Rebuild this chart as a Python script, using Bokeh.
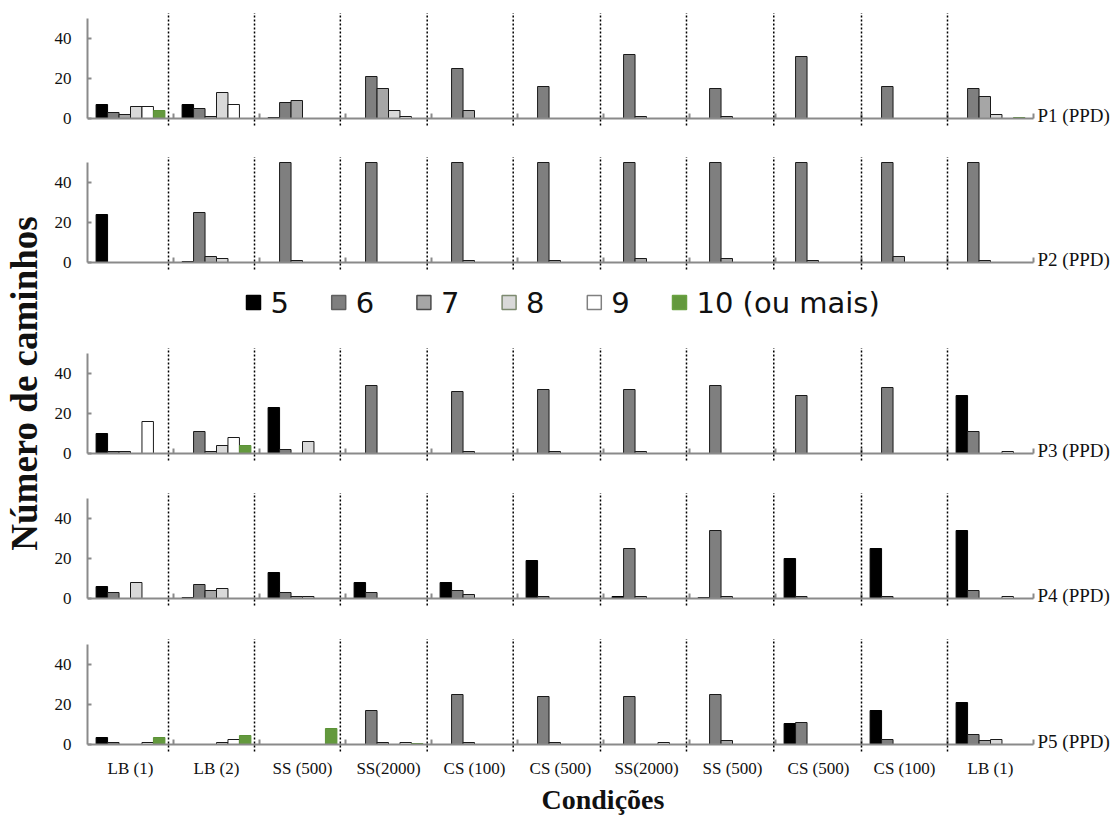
import math
from bokeh.plotting import figure
from bokeh.models import ColumnDataSource, FixedTicker, LinearAxis, Range1d, Title
from bokeh.layouts import column, row
from bokeh.embed import file_html
from bokeh.resources import INLINE
from bokeh.core.properties import value

# ---------------- data ----------------
conditions = ["LB (1)", "LB (2)", "SS (500)", "SS(2000)", "CS (100)", "CS (500)",
              "SS(2000)", "SS (500)", "CS (500)", "CS (100)", "LB (1)"]
series_names = ["5", "6", "7", "8", "9", "10 (ou mais)"]
participants = ["P1 (PPD)", "P2 (PPD)", "P3 (PPD)", "P4 (PPD)", "P5 (PPD)"]
y_ticks = [0, 20, 40]

# P1
p1_5 = [7, 7, 0.5, 0, 0, 0, 0, 0, 0, 0, 0]
p1_6 = [3, 5, 8, 21, 25, 16, 32, 15, 31, 16, 15]
p1_7 = [2, 1, 9, 15, 4, 0, 1, 1, 0, 0, 11]
p1_8 = [6, 13, 0, 4, 0, 0, 0, 0, 0, 0, 2]
p1_9 = [6, 7, 0, 1, 0, 0, 0, 0, 0, 0, 0]
p1_10 = [4, 0, 0, 0, 0, 0, 0, 0, 0, 0, 0.5]
# P2 (bars of 6 reach the top of the axis, 50)
p2_5 = [24, 0.5, 0, 0, 0, 0, 0, 0, 0, 0, 0]
p2_6 = [0, 25, 50, 50, 50, 50, 50, 50, 50, 50, 50]
p2_7 = [0, 3, 1, 0, 1, 1, 2, 2, 1, 3, 1]
p2_8 = [0, 2, 0, 0, 0, 0, 0, 0, 0, 0, 0]
p2_9 = [0, 0, 0, 0, 0, 0, 0, 0, 0, 0, 0]
p2_10 = [0, 0, 0, 0, 0, 0, 0, 0, 0, 0, 0]
# P3
p3_5 = [10, 0, 23, 0, 0, 0, 0, 0, 0, 0, 29]
p3_6 = [1, 11, 2, 34, 31, 32, 32, 34, 29, 33, 11]
p3_7 = [1, 1, 0, 0, 1, 1, 1, 0, 0, 0, 0]
p3_8 = [0, 4, 6, 0, 0, 0, 0, 0, 0, 0, 0]
p3_9 = [16, 8, 0, 0, 0, 0, 0, 0, 0, 0, 1]
p3_10 = [0, 4, 0, 0, 0, 0, 0, 0, 0, 0, 0]
# P4
p4_5 = [6, 0.5, 13, 8, 8, 19, 1, 0.5, 20, 25, 34]
p4_6 = [3, 7, 3, 3, 4, 1, 25, 34, 1, 1, 4]
p4_7 = [0, 4, 1, 0, 2, 0, 1, 1, 0, 0, 0]
p4_8 = [8, 5, 1, 0, 0, 0, 0, 0, 0, 0, 0]
p4_9 = [0, 0, 0, 0, 0, 0, 0, 0, 0, 0, 1]
p4_10 = [0, 0, 0, 0, 0, 0, 0, 0, 0, 0, 0]
# P5
p5_5 = [3.5, 0, 0, 0, 0, 0, 0, 0, 10.5, 17, 21]
p5_6 = [1, 0, 0, 17, 25, 24, 24, 25, 11, 2.5, 5]
p5_7 = [0, 0, 0, 1, 1, 1, 0, 2, 0, 0, 2]
p5_8 = [0, 1, 0, 0, 0, 0, 0, 0, 0, 0, 2.5]
p5_9 = [1, 2.5, 0, 1, 0, 0, 1, 0, 0, 0, 0]
p5_10 = [3.5, 4.5, 8, 0.5, 0, 0, 0, 0, 0, 0, 0]

panel_values = [
    [p1_5, p1_6, p1_7, p1_8, p1_9, p1_10],
    [p2_5, p2_6, p2_7, p2_8, p2_9, p2_10],
    [p3_5, p3_6, p3_7, p3_8, p3_9, p3_10],
    [p4_5, p4_6, p4_7, p4_8, p4_9, p4_10],
    [p5_5, p5_6, p5_7, p5_8, p5_9, p5_10],
]

# ---------------- style ----------------
fills = ["#000000", "#7f7f7f", "#a6a6a6", "#d9d9d9", "#ffffff", "#63993d"]
edges = ["#000000", "#1a1a1a", "#1a1a1a", "#1a1a1a", "#1a1a1a", "#5b9236"]
leg_edges = ["#000000", "#5f5f5f", "#4a4a4a", "#7d8a70", "#808080", "#6aa242"]
AXIS_GREY = "#8a8a8a"
SERIF = "Liberation Serif"
TXT = "#111111"

N = len(conditions)
NS = len(series_names)
PX = 86                      # pixels per condition group
GAP = 1.5                    # gap width (in bar widths)
BAR_W = 1.0 / (NS + GAP)
LEFT_W = 48                  # width of the y-title strip
COL_W = 1118 - LEFT_W
BORDER_L = 87 - LEFT_W
FRAME_W = COL_W - BORDER_L
X_END = FRAME_W / PX
Y_LO, Y_HI = -4.0, 53.5
FRAME_H = int(round((Y_HI - Y_LO) * 2))
divider_x = [0.942, 1.942, 2.94, 3.95, 4.95, 5.965, 6.965, 7.98, 9.0, 10.0]

panel_borders = [(11, 14), (15, 10), (16, 14), (16, 14), (17, 74)]


def bare_figure(**kw):
    p = figure(toolbar_location=None, output_backend="svg",
               x_axis_location=None, y_axis_location=None, **kw)
    p.grid.visible = False
    p.outline_line_color = None
    p.background_fill_color = "white"
    return p


def make_panel(vals, name, top, bottom, last=False):
    p = bare_figure(frame_width=FRAME_W, frame_height=FRAME_H,
                    x_range=Range1d(0, X_END), y_range=Range1d(Y_LO, Y_HI),
                    min_border_left=BORDER_L, min_border_right=0,
                    min_border_top=top, min_border_bottom=bottom)

    yax = LinearAxis(ticker=FixedTicker(ticks=y_ticks), bounds=(0, 50))
    yax.axis_line_color = AXIS_GREY
    yax.axis_line_width = 2
    yax.major_tick_line_color = AXIS_GREY
    yax.major_tick_line_width = 2
    yax.major_tick_in = 4
    yax.major_tick_out = 0
    yax.minor_tick_line_color = None
    yax.major_label_standoff = 16
    yax.major_label_text_font = SERIF
    yax.major_label_text_font_size = "17px"
    yax.major_label_text_color = TXT
    p.add_layout(yax, "left")

    # bars
    for j in range(NS):
        xs, tops = [], []
        for k, v in enumerate(vals[j]):
            if v > 0:
                xs.append(k + 0.5 + (j - (NS - 1) / 2) * BAR_W)
                tops.append(v)
        src = ColumnDataSource(dict(x=xs, top=tops))
        p.vbar(x="x", top="top", bottom=0, width=BAR_W, source=src,
               fill_color=fills[j], line_color=edges[j], line_width=1)

    # x axis line and category boundary ticks
    p.segment(x0=[0], y0=[0], x1=[N], y1=[0], line_color=AXIS_GREY, line_width=2)
    bnd = list(range(1, N + 1))
    p.segment(x0=bnd, y0=[0] * N, x1=bnd, y1=[2.5] * N,
              line_color=AXIS_GREY, line_width=2)

    # dotted separators
    p.segment(x0=divider_x, y0=[-3.5] * len(divider_x), x1=divider_x,
              y1=[52.75] * len(divider_x), line_color="black", line_width=1.5,
              line_dash="2 2")

    # participant label at the end of the axis
    p.text(x=[N], y=[1.5], text=[name], x_offset=4, text_font=value(SERIF),
           text_font_size="19px", text_baseline="middle", text_color=TXT)

    if last:
        centers = [k + 0.5 for k in range(N)]
        lab = LinearAxis(ticker=FixedTicker(ticks=centers),
                         major_label_overrides={c: n for c, n in zip(centers, conditions)})
        lab.axis_line_color = None
        lab.major_tick_line_color = None
        lab.minor_tick_line_color = None
        lab.major_label_standoff = 0
        lab.major_label_text_font = SERIF
        lab.major_label_text_font_size = "17px"
        lab.major_label_text_color = TXT
        p.add_layout(lab, "below")
        p.add_layout(Title(text="Condições", align="left", offset=454,
                           text_font=SERIF, text_font_size="28px",
                           text_font_style="bold", text_color=TXT,
                           standoff=2), "below")
    return p


panels = [make_panel(panel_values[i], participants[i], *panel_borders[i],
                     last=(i == len(participants) - 1))
          for i in range(len(participants))]

# ---------------- legend strip (x in pixels from the plot frame's left edge) ----------------
LEG_H = 50
leg = bare_figure(frame_width=FRAME_W, frame_height=LEG_H, x_range=Range1d(0, FRAME_W),
                  y_range=Range1d(0, LEG_H), min_border_left=BORDER_L, min_border_right=0,
                  min_border_top=0, min_border_bottom=0)
leg_start, leg_pitch, leg_y = 159, 85.2, 28
mx = [leg_start + i * leg_pitch + 7 for i in range(NS)]
leg.rect(x=mx, y=[leg_y] * NS, width=14, height=14, fill_color=fills,
         line_color=leg_edges, line_width=1.5)
leg.text(x=[m + 17 for m in mx], y=[leg_y] * NS, text=series_names,
         text_font=value("DejaVu Sans"), text_font_size="29px",
         text_baseline="middle", text_color=TXT)

# ---------------- y title strip ----------------
TOTAL_H = 826
yt = bare_figure(frame_width=LEFT_W, frame_height=TOTAL_H, x_range=Range1d(0, LEFT_W),
                 y_range=Range1d(0, TOTAL_H), min_border=0)
yt.text(x=[24], y=[TOTAL_H - 383], text=["Número de caminhos"], angle=math.pi / 2,
        text_font=value(SERIF), text_font_size="37px", text_font_style="bold",
        text_align="center", text_baseline="middle", text_color=TXT)

layout = row(yt, column(panels[0], panels[1], leg, panels[2], panels[3], panels[4]))

open("out.html", "w").write(file_html(layout, INLINE))
